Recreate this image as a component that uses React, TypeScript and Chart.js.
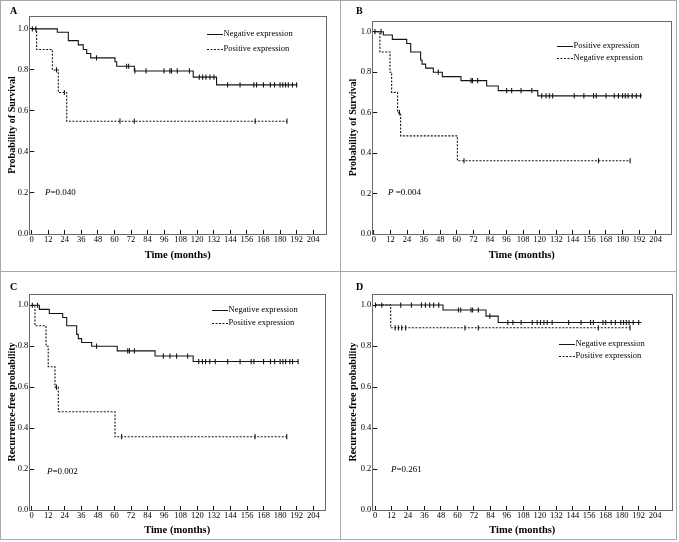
import React, { useEffect, useRef } from 'react';
import { Chart, registerables } from 'chart.js';

Chart.register(...registerables);

// ---------- axis ticks ----------
const X_TICKS = [0, 12, 24, 36, 48, 60, 72, 84, 96, 108, 120, 132, 144, 156, 168, 180, 192, 204];
const Y_TICKS = [0, 0.2, 0.4, 0.6, 0.8, 1.0];

// ---------- Panel A : overall survival ----------
const A_NEG_TIMES = [0, 18.6, 26.6, 33.8, 37.4, 39.9, 42.8, 60.4, 61.6, 74.4, 117.1, 134, 192.5];
const A_NEG_SURV = [1, 0.984, 0.943, 0.922, 0.90, 0.88, 0.859, 0.84, 0.818, 0.795, 0.765, 0.727, 0.727];
const A_NEG_CENSOR = [0.5, 3, 47, 68.8, 70.3, 74.8, 82.9, 95.9, 100.2, 101.3, 105.5, 114.3, 121.5, 123.9, 126.3, 129.2, 132.1, 142, 151, 161, 163, 168, 173, 176, 180, 182, 184, 186, 189, 192];
const A_POS_TIMES = [0, 3.6, 15, 19.3, 25.4, 185];
const A_POS_SURV = [1, 0.90, 0.80, 0.69, 0.55, 0.55];
const A_POS_CENSOR = [18, 23.7, 64, 74.4, 162, 185];

// ---------- Panel B ----------
const B_POS_TIMES = [0, 6.8, 13.3, 23.7, 26.6, 33.8, 34.8, 37.4, 43, 49.5, 63, 81.6, 90, 118.6, 194];
const B_POS_SURV = [1, 0.984, 0.962, 0.942, 0.90, 0.86, 0.84, 0.82, 0.80, 0.778, 0.758, 0.732, 0.709, 0.683, 0.683];
const B_POS_CENSOR = [0.7, 5.1, 46.6, 70.3, 71.3, 75.1, 96.1, 99.7, 106.5, 114.3, 121.5, 124.6, 127, 129.4, 145, 152, 159, 161, 168, 174, 177, 180, 182, 184, 187, 190, 193];
const B_NEG_TIMES = [0, 4.3, 11.6, 12.8, 17.1, 19.3, 60.4, 185.5];
const B_NEG_SURV = [1, 0.90, 0.80, 0.70, 0.60, 0.485, 0.362, 0.362];
const B_NEG_CENSOR = [18.4, 65.2, 162.6, 185.5];

// ---------- Panel C : recurrence-free ----------
const C_NEG_TIMES = [0, 5.6, 12.8, 22.5, 25.4, 32.6, 33.8, 36.2, 43.5, 62, 89.4, 117, 193];
const C_NEG_SURV = [1, 0.98, 0.96, 0.94, 0.90, 0.858, 0.837, 0.818, 0.80, 0.777, 0.752, 0.725, 0.725];
const C_NEG_CENSOR = [0.5, 4.3, 47, 69.6, 70.8, 74.4, 95.4, 100.2, 105, 113, 121, 123.7, 126, 129, 133, 142, 151, 159, 161, 168, 173, 176, 180, 182, 184, 187, 189, 193];
const C_POS_TIMES = [0, 2.4, 10.4, 12, 16.9, 19.3, 60.4, 185];
const C_POS_SURV = [1, 0.90, 0.80, 0.70, 0.60, 0.48, 0.358, 0.358];
const C_POS_CENSOR = [18, 65.2, 161.8, 184.8];

// ---------- Panel D ----------
const D_NEG_TIMES = [0, 49.5, 80.8, 89.7, 194];
const D_NEG_SURV = [1, 0.976, 0.946, 0.915, 0.915];
const D_NEG_CENSOR = [0.3, 4.9, 18.7, 26.5, 33.8, 36.7, 39.8, 42.7, 46.4, 60.7, 62.4, 69.9, 71.1, 75.2, 83.6, 96.7, 100.4, 106.4, 114.5, 118.1, 120.5, 123, 125.4, 129, 141, 150, 157, 159, 166, 168, 172, 175, 179, 181, 183, 185, 188, 192];
const D_POS_TIMES = [0, 11.4, 185.7];
const D_POS_SURV = [1, 0.889, 0.889];
const D_POS_CENSOR = [14.6, 17, 19.4, 22.3, 65.5, 75.2, 162.6, 185.7];

// ---------- text ----------
const NEG_LABEL = 'Negative expression';
const POS_LABEL = 'Positive expression';
const X_TITLE = 'Time (months)';
const Y_TITLE_OS = 'Probability of Survival';
const Y_TITLE_RFS = 'Recurrence-free probability';

// ---------- styles ----------
const SERIF = '"Liberation Serif", "Times New Roman", serif';
const LINE_COLOR = '#141414';
const BOX_COLOR = '#6a6a6a';
const FRAME_COLOR = '#a8a8a8';
const TEXT_COLOR = '#000000';
const H = 271;

type Series = { label: string; times: number[]; surv: number[]; censor: number[]; dashed: boolean };
type PanelSpec = {
  letter: string;
  ox: number; oy: number; w: number;
  yTitle: string;
  pLabel: string; pValue: string;
  series: Series[];
  xMin: number; xMax: number; yMax: number;
  area: { left: number; top: number; right: number; bottom: number };
  legend: { x: number; y0: number; y1: number };
  p: { x: number; y: number };
  letterPos: { x: number; y: number };
  yTitlePad: number;
  xTitlePad: number;
};

const PANELS: PanelSpec[] = [
  {
    letter: 'A', ox: 0, oy: 0, w: 340, yTitle: Y_TITLE_OS, pLabel: 'P', pValue: '=0.040',
    series: [
      { label: NEG_LABEL, times: A_NEG_TIMES, surv: A_NEG_SURV, censor: A_NEG_CENSOR, dashed: false },
      { label: POS_LABEL, times: A_POS_TIMES, surv: A_POS_SURV, censor: A_POS_CENSOR, dashed: true },
    ],
    xMin: -1.7, xMax: 213.3, yMax: 1.063,
    area: { left: 29.3, top: 16, right: 326, bottom: 234 },
    legend: { x: 207, y0: 34, y1: 49 }, p: { x: 45, y: 193 }, letterPos: { x: 10, y: 11 },
    yTitlePad: 6.5, xTitlePad: 9.5,
  },
  {
    letter: 'B', ox: 340, oy: 0, w: 339, yTitle: Y_TITLE_OS, pLabel: 'P', pValue: ' =0.004',
    series: [
      { label: POS_LABEL, times: B_POS_TIMES, surv: B_POS_SURV, censor: B_POS_CENSOR, dashed: false },
      { label: NEG_LABEL, times: B_NEG_TIMES, surv: B_NEG_SURV, censor: B_NEG_CENSOR, dashed: true },
    ],
    xMin: -1.2, xMax: 215.3, yMax: 1.053,
    area: { left: 32.3, top: 21, right: 331.3, bottom: 234 },
    legend: { x: 217, y0: 46, y1: 58 }, p: { x: 48, y: 193 }, letterPos: { x: 16, y: 11 },
    yTitlePad: 7, xTitlePad: 9.5,
  },
  {
    letter: 'C', ox: 0, oy: 271, w: 340, yTitle: Y_TITLE_RFS, pLabel: 'P', pValue: '=0.002',
    series: [
      { label: NEG_LABEL, times: C_NEG_TIMES, surv: C_NEG_SURV, censor: C_NEG_CENSOR, dashed: false },
      { label: POS_LABEL, times: C_POS_TIMES, surv: C_POS_SURV, censor: C_POS_CENSOR, dashed: true },
    ],
    xMin: -1.7, xMax: 212.5, yMax: 1.055,
    area: { left: 29.3, top: 23, right: 325, bottom: 239 },
    legend: { x: 212, y0: 39, y1: 52 }, p: { x: 47, y: 201 }, letterPos: { x: 10, y: 16 },
    yTitlePad: 6, xTitlePad: 5.4,
  },
  {
    letter: 'D', ox: 340, oy: 271, w: 339, yTitle: Y_TITLE_RFS, pLabel: 'P', pValue: '=0.261',
    series: [
      { label: NEG_LABEL, times: D_NEG_TIMES, surv: D_NEG_SURV, censor: D_NEG_CENSOR, dashed: false },
      { label: POS_LABEL, times: D_POS_TIMES, surv: D_POS_SURV, censor: D_POS_CENSOR, dashed: true },
    ],
    xMin: -2, xMax: 216.5, yMax: 1.054,
    area: { left: 32.3, top: 23, right: 332.3, bottom: 239 },
    legend: { x: 219, y0: 73, y1: 85 }, p: { x: 51, y: 199 }, letterPos: { x: 16, y: 16 },
    yTitlePad: 7, xTitlePad: 5.4,
  },
];

function levelAt(times: number[], surv: number[], t: number) {
  let v = surv[0];
  for (let i = 0; i < times.length; i++) if (times[i] <= t) v = surv[i];
  return v;
}

function makeDecor(p: PanelSpec) {
  return {
    id: 'decor' + p.letter,
    afterDraw(chart: any) {
      const ctx = chart.ctx as CanvasRenderingContext2D;
      const a = chart.chartArea;
      ctx.save();
      // plot box
      ctx.strokeStyle = BOX_COLOR;
      ctx.lineWidth = 1;
      ctx.setLineDash([]);
      ctx.strokeRect(Math.round(a.left) + 0.5, Math.round(a.top) + 0.5, Math.round(a.right - a.left), Math.round(a.bottom - a.top));
      // panel letter
      ctx.fillStyle = TEXT_COLOR;
      ctx.textBaseline = 'middle';
      ctx.textAlign = 'left';
      ctx.font = 'bold 10px ' + SERIF;
      ctx.fillText(p.letter, p.letterPos.x, p.letterPos.y);
      // legend
      ctx.font = '8.5px ' + SERIF;
      p.series.forEach((s, i) => {
        const y = i === 0 ? p.legend.y0 : p.legend.y1;
        ctx.strokeStyle = LINE_COLOR;
        ctx.setLineDash(s.dashed ? [2, 1.5] : []);
        ctx.beginPath();
        ctx.moveTo(p.legend.x, Math.round(y) + 0.5);
        ctx.lineTo(p.legend.x + 16, Math.round(y) + 0.5);
        ctx.stroke();
        ctx.setLineDash([]);
        ctx.fillText(s.label, p.legend.x + 16.5, y);
      });
      // p value
      ctx.font = 'italic 9px ' + SERIF;
      ctx.fillText(p.pLabel, p.p.x, p.p.y);
      const wP = ctx.measureText(p.pLabel).width;
      ctx.font = '9px ' + SERIF;
      ctx.fillText(p.pValue, p.p.x + wP, p.p.y);
      ctx.restore();
    },
  };
}

function buildConfig(p: PanelSpec): any {
  const datasets: any[] = [];
  p.series.forEach((s) => {
    datasets.push({
      label: s.label,
      data: s.times.map((t, i) => ({ x: t, y: s.surv[i] })),
      stepped: 'before',
      borderColor: LINE_COLOR,
      borderWidth: 1.1,
      borderDash: s.dashed ? [2, 1.5] : [],
      pointRadius: 0,
      fill: false,
    });
    datasets.push({
      label: s.label + ' (censored)',
      data: s.censor.map((t) => ({ x: t, y: levelAt(s.times, s.surv, t) })),
      showLine: false,
      pointStyle: 'line',
      pointRotation: 90,
      pointRadius: 2.6,
      pointBorderWidth: 1.1,
      pointBorderColor: LINE_COLOR,
      borderColor: LINE_COLOR,
      backgroundColor: LINE_COLOR,
    });
  });
  const tickFont = { family: SERIF, size: 8.5 };
  const titleFont = { family: SERIF, size: 10.5, weight: 'bold' as const };
  return {
    type: 'line',
    data: { datasets },
    options: {
      responsive: false,
      animation: false,
      devicePixelRatio: 1,
      events: [],
      layout: { padding: { left: 0, top: p.area.top, right: p.w - p.area.right, bottom: 0 } },
      plugins: { legend: { display: false }, tooltip: { enabled: false } },
      scales: {
        x: {
          type: 'linear',
          min: p.xMin,
          max: p.xMax,
          afterBuildTicks: (s: any) => { s.ticks = X_TICKS.map((v) => ({ value: v })); },
          afterFit: (s: any) => { s.height = H - p.area.bottom; },
          ticks: { font: tickFont, color: TEXT_COLOR, padding: 4.2, autoSkip: false, maxRotation: 0, callback: (v: any) => String(v) },
          grid: { display: true, drawOnChartArea: false, drawTicks: true, tickLength: -4, color: LINE_COLOR, lineWidth: 1 },
          border: { display: false },
          title: { display: true, text: X_TITLE, font: titleFont, color: TEXT_COLOR, padding: { top: 0, bottom: p.xTitlePad } },
        },
        y: {
          type: 'linear',
          min: 0,
          max: p.yMax,
          afterBuildTicks: (s: any) => { s.ticks = Y_TICKS.map((v) => ({ value: v })); },
          afterFit: (s: any) => { s.width = p.area.left; },
          ticks: { font: tickFont, color: TEXT_COLOR, padding: 6, autoSkip: false, callback: (v: any) => Number(v).toFixed(1) },
          grid: { display: true, drawOnChartArea: false, drawTicks: true, tickLength: -5, color: LINE_COLOR, lineWidth: 1 },
          border: { display: false },
          title: { display: true, text: p.yTitle, font: { family: SERIF, size: 10, weight: 'bold' }, color: TEXT_COLOR, padding: { top: p.yTitlePad, bottom: 0 } },
        },
      },
    },
    plugins: [makeDecor(p)],
  };
}

function Panel({ spec }: { spec: PanelSpec }) {
  const ref = useRef<HTMLCanvasElement>(null);
  useEffect(() => {
    if (!ref.current) return;
    const chart = new Chart(ref.current, buildConfig(spec));
    return () => chart.destroy();
  }, [spec]);
  return (
    <canvas
      ref={ref}
      width={spec.w}
      height={H}
      style={{ position: 'absolute', left: spec.ox, top: spec.oy, width: spec.w, height: H }}
    />
  );
}

export default function App() {
  return (
    <div style={{ position: 'absolute', left: 0, top: 0, width: 679, height: 542, background: '#ffffff', overflow: 'hidden' }}>
      <div style={{ position: 'absolute', left: 0, top: 0, width: 677, height: 540, border: `1px solid ${FRAME_COLOR}`, boxSizing: 'border-box' }} />
      <div style={{ position: 'absolute', left: 340, top: 0, width: 1, height: 540, background: FRAME_COLOR }} />
      <div style={{ position: 'absolute', left: 0, top: 271, width: 677, height: 1, background: FRAME_COLOR }} />
      {PANELS.map((p) => (
        <Panel key={p.letter} spec={p} />
      ))}
    </div>
  );
}
